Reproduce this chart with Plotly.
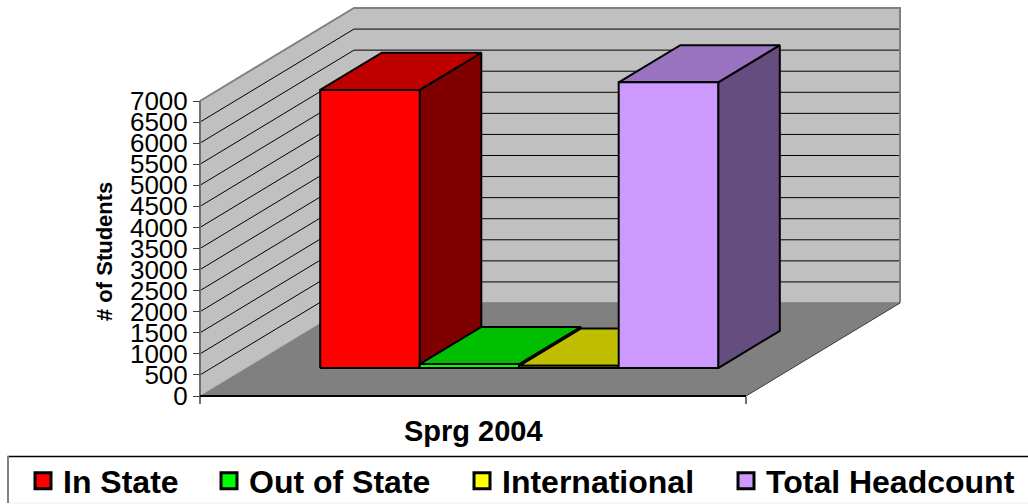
import plotly.graph_objects as go

# ---- data ----
period = "Sprg 2004"
series_names = ["In State", "Out of State", "International", "Total Headcount"]
series_values = [6600, 95, 55, 6780]
y_ticks = list(range(0, 7001, 500))
front_colors = ["#FF0000", "#00FF00", "#FFFF00", "#CC99FF"]
top_colors = ["#BF0000", "#00BF00", "#BFBF00", "#9973BF"]
side_colors = ["#800000", "#008000", "#808000", "#664D80"]

# ---- oblique projection: category fraction c, depth fraction d, value v -> axis coordinates ----
W, H = 1028, 504
PX_X0, PX_X1 = 200, 746        # front floor edge
PX_Y0, PX_Y7000 = 396, 101     # left wall front edge
SHEAR_PX_X, SHEAR_PX_Y = 154, 93
PX_PER_C = PX_X1 - PX_X0
PX_PER_V = (PX_Y0 - PX_Y7000) / 7000
VMAX = y_ticks[-1]


def P(c, d, v):
    return c + d * SHEAR_PX_X / PX_PER_C, v + d * SHEAR_PX_Y / PX_PER_V


def path(points):
    xy = [P(*p) if p is not None else (None, None) for p in points]
    return [a for a, _ in xy], [b for _, b in xy]


fig = go.Figure()


def poly(points, fill, line="black", width=2):
    x, y = path(points + [points[0]])
    fig.add_trace(go.Scatter(x=x, y=y, mode="lines", fill="toself", fillcolor=fill,
                             line=dict(color=line, width=width), showlegend=False, hoverinfo="skip"))


def stroke(points, color, width):
    x, y = path(points)
    fig.add_trace(go.Scatter(x=x, y=y, mode="lines", line=dict(color=color, width=width),
                             showlegend=False, hoverinfo="skip"))


# walls and floor
poly([(0, 0, 0), (0, 1, 0), (0, 1, VMAX), (0, 0, VMAX)], "#C0C0C0", "#C0C0C0", 0.5)
poly([(0, 1, 0), (1, 1, 0), (1, 1, VMAX), (0, 1, VMAX)], "#C0C0C0", "#C0C0C0", 0.5)
poly([(0, 0, 0), (1, 0, 0), (1, 1, 0), (0, 1, 0)], "#808080", "#808080", 0.5)

# gridlines
grid = []
for t in y_ticks[1:-1]:
    grid += [(0, 0, t), (0, 1, t), (1, 1, t), None]
stroke(grid, "black", 1)

# wall borders and axis lines
stroke([(0, 0, VMAX), (0, 1, VMAX), (1, 1, VMAX), (1, 1, 0)], "#808080", 2)
stroke([(0, 1, 0), (1, 1, 0)], "#808080", 1.5)
stroke([(0, 0, 0), (0, 0, VMAX)], "#707070", 2)
stroke([(1, 0, 0), (1, 1, 0)], "#404040", 1)
stroke([(0, 0, 0), (1, 0, 0)], "black", 2)

# bars
GAP = 74 / PX_PER_C
BAR_W = (1 - 2 * GAP) / len(series_values)
D0, D1 = 0.30, 0.70
for i, v in enumerate(series_values):
    c0, c1 = GAP + i * BAR_W, GAP + (i + 1) * BAR_W
    poly([(c1, D0, 0), (c1, D1, 0), (c1, D1, v), (c1, D0, v)], side_colors[i])
    poly([(c0, D0, v), (c1, D0, v), (c1, D1, v), (c0, D1, v)], top_colors[i])
    poly([(c0, D0, 0), (c1, D0, 0), (c1, D0, v), (c0, D0, v)], front_colors[i])

# legends: one per entry, so each sits where the reference puts it
legend_px = [23, 209, 462, 726]
legend_font = dict(family="Liberation Sans", size=32, color="black", weight="bold")
layout_legends = {}
for i, name in enumerate(series_names):
    key = "legend" if i == 0 else f"legend{i + 1}"
    fig.add_trace(go.Scatter(x=[None], y=[None], mode="markers", name=name, legend=key,
                             marker=dict(symbol="square", size=16, color=front_colors[i],
                                         line=dict(color="black", width=3))))
    layout_legends[key] = dict(x=legend_px[i] / W, y=1 - 481 / H, xanchor="left", yanchor="middle",
                               font=legend_font, bgcolor="rgba(0,0,0,0)", borderwidth=0)

fig.update_layout(
    width=W, height=H, margin=dict(l=0, r=0, t=0, b=0, autoexpand=False),
    paper_bgcolor="white", plot_bgcolor="white", showlegend=True,
    xaxis=dict(range=[-PX_X0 / PX_PER_C, (W - PX_X0) / PX_PER_C], anchor="free",
               position=(H - PX_Y0) / H, tickvals=[0, 1], ticks="outside", ticklen=7,
               tickcolor="#707070", tickwidth=1.5, showticklabels=False, showgrid=False,
               zeroline=False, showline=False),
    yaxis=dict(range=[(PX_Y0 - H) / PX_PER_V, PX_Y0 / PX_PER_V], anchor="free",
               position=PX_X0 / W, side="left", tickvals=y_ticks, ticks="outside", ticklen=7,
               tickcolor="#404040", tickwidth=1,
               tickfont=dict(family="Liberation Sans", size=26, color="black"),
               showgrid=False, zeroline=False, showline=False),
    annotations=[
        dict(text=period, x=0.5, y=1 - 431 / H, xref="x", yref="paper", showarrow=False,
             xanchor="center", yanchor="middle",
             font=dict(family="Liberation Sans", size=29, color="black", weight="bold")),
        dict(text="# of Students", x=104 / W, y=1 - 252 / H, xref="paper", yref="paper",
             showarrow=False, textangle=-90, xanchor="center", yanchor="middle",
             font=dict(family="Liberation Sans", size=22, color="black", weight="bold")),
    ],
    shapes=[
        dict(type="line", xref="paper", yref="paper", x0=7.5 / W, x1=1, y0=1 - 456.5 / H, y1=1 - 456.5 / H,
             line=dict(color="black", width=1.5)),
        dict(type="line", xref="paper", yref="paper", x0=8 / W, x1=8 / W, y0=1 - 503 / H, y1=1 - 456 / H,
             line=dict(color="#808080", width=2)),
        dict(type="line", xref="paper", yref="paper", x0=9 / W, x1=1, y0=1 - 503 / H, y1=1 - 503 / H,
             line=dict(color="#EEEEEE", width=1)),
    ],
    **layout_legends,
)

fig.write_html("out.html", config={"displayModeBar": False},
               post_script="document.body.style.margin='0';document.documentElement.style.overflow='hidden';")
